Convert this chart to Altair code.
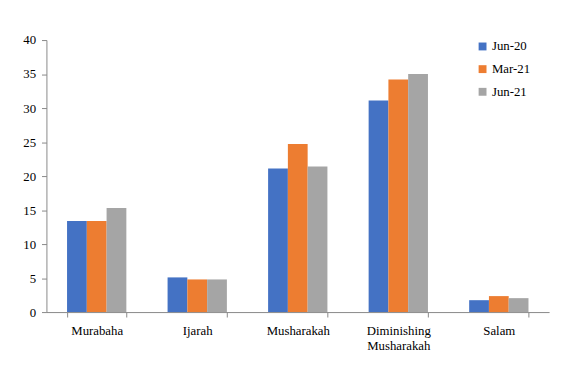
import altair as alt
import pandas as pd

categories = ["Murabaha", "Ijarah", "Musharakah", "Diminishing Musharakah", "Salam"]
series = ["Jun-20", "Mar-21", "Jun-21"]
jun20 = [13.4, 5.1, 21.1, 31.1, 1.75]
mar21 = [13.4, 4.8, 24.7, 34.2, 2.35]
jun21 = [15.3, 4.8, 21.4, 35.0, 2.05]
colors = ["#4472C4", "#ED7D31", "#A5A5A5"]

rows = []
for s, vals in zip(series, [jun20, mar21, jun21]):
    for c, v in zip(categories, vals):
        rows.append({"category": c, "series": s, "value": v})
df = pd.DataFrame(rows)

font = "'Liberation Serif', 'Times New Roman', 'DejaVu Serif', serif"

chart = alt.Chart(df).mark_bar().encode(
    x=alt.X("category:N", sort=categories, title=None,
            scale=alt.Scale(paddingInner=0.41, paddingOuter=0.205),
            axis=alt.Axis(labelAngle=0, tickBand="extent", domainColor="#888888",
                          tickColor="#888888", tickSize=5, labelPadding=8,
                          labelFont=font, labelFontSize=13, labelColor="#000000",
                          labelExpr="datum.label == 'Diminishing Musharakah' ? ['Diminishing', 'Musharakah'] : datum.label")),
    xOffset=alt.XOffset("series:N", sort=series),
    y=alt.Y("value:Q", title=None,
            scale=alt.Scale(domain=[0, 40], nice=False),
            axis=alt.Axis(values=[0, 5, 10, 15, 20, 25, 30, 35, 40], grid=False,
                          domainColor="#888888", tickColor="#888888", tickSize=5,
                          labelFont=font, labelFontSize=13, labelColor="#000000",
                          labelPadding=6)),
    color=alt.Color("series:N", sort=series,
                    scale=alt.Scale(domain=series, range=colors),
                    legend=alt.Legend(title=None, orient="none", legendX=436, legendY=0,
                                      symbolType="square", symbolSize=64,
                                      symbolStrokeWidth=0,
                                      labelFont=font, labelFontSize=13,
                                      labelColor="#000000", rowPadding=9,
                                      labelOffset=3)),
).properties(
    width=510, height=276,
    autosize=alt.AutoSizeParams(type="none"),
    padding={"left": 39, "top": 30, "right": 6, "bottom": 40},
).configure_view(stroke=None)

chart.save("out.html", embed_options={"renderer": "svg", "actions": False})
